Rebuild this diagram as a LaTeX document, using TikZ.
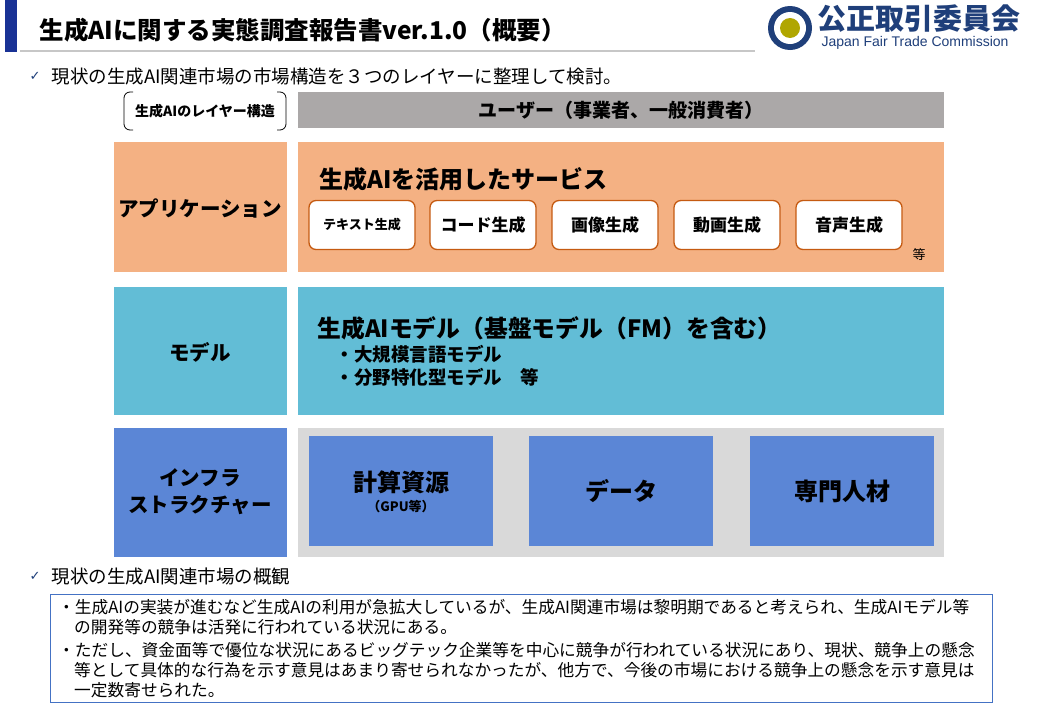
\documentclass[tikz,border=0pt]{standalone}
\usepackage{fontspec}
\setmainfont{Noto Sans CJK JP}
\newfontfamily\dv{DejaVu Sans}
\newfontfamily\lat{Liberation Sans}
\definecolor{app}{HTML}{F4B183}
\definecolor{mdl}{HTML}{62BDD6}
\definecolor{inf}{HTML}{5B86D6}
\definecolor{usr}{HTML}{ABA8A8}
\definecolor{lg}{HTML}{D9D9D9}
\definecolor{brd}{HTML}{C55A11}
\definecolor{navy}{HTML}{1F3F7A}
\definecolor{bx}{HTML}{4472C4}
\begin{document}
\begin{tikzpicture}[x=1pt,y=-1pt,
  svc/.style={draw=brd,line width=1.3pt,fill=white,rounded corners=7pt,minimum width=106pt,minimum height=49pt,inner sep=0pt,font=\fontsize{17}{17}\selectfont\bfseries},
  lay/.style={font=\fontsize{20.5}{27}\selectfont\bfseries,align=center}]
\useasboundingbox (0,0) rectangle (1040,720);
\fill[white] (0,0) rectangle (1040,720);
% header
\fill[navy!80!blue] (5,0) rectangle (17,52);
\draw[lg!80!gray,line width=2pt] (20,51) -- (755,51);
\node[anchor=west,font=\fontsize{24.5}{24.5}\selectfont\bfseries] (title) at (36,30) {生成AIに関する実態調査報告書ver.1.0（概要）};
% logo
\fill[navy] (790,28) circle (22);
\fill[white] (790,28) circle (16);
\fill[olive!70!yellow] (790,28) circle (10);
\node[anchor=west,font=\fontsize{29}{29}\selectfont\bfseries,text=navy] (logo) at (814,19) {公正取引委員会};
\node[anchor=west,font=\fontsize{14}{14}\selectfont\lat,text=navy] (logoen) at (818,43) {Japan Fair Trade Commission};
% check 1
\node[anchor=west,font=\fontsize{13}{13}\selectfont\dv,text=navy] (c1) at (26,76) {✓};
\node[anchor=west,font=\fontsize{18.5}{18.5}\selectfont] (t1) at (48,76) {現状の生成AI関連市場の市場構造を３つのレイヤーに整理して検討。};
% bracket label
\node[font=\fontsize{14}{14}\selectfont\bfseries] (lbl) at (205,111) {生成AIのレイヤー構造};
\draw[line width=0.8pt,rounded corners=6pt] (133,92) -- (124,92) -- (124,130) -- (133,130);
\draw[line width=0.8pt,rounded corners=6pt] (277,92) -- (286,92) -- (286,130) -- (277,130);
% user
\fill[usr] (298,92) rectangle (944,128);
\node[font=\fontsize{19}{19}\selectfont\bfseries] (user) at (621,110) {ユーザー（事業者、一般消費者）};
% application
\fill[app] (114,142) rectangle (287,272);
\fill[app] (298,142) rectangle (944,272);
\node[lay] (la) at (200,208) {アプリケーション};
\node[anchor=west,font=\fontsize{24}{24}\selectfont\bfseries] (st) at (316,179) {生成AIを活用したサービス};
\node[svc,font=\fontsize{13}{13}\selectfont\bfseries] (s1) at (362,225) {テキスト生成};
\node[svc] (s2) at (483,225) {コード生成};
\node[svc] (s3) at (605,225) {画像生成};
\node[svc] (s4) at (727,225) {動画生成};
\node[svc] (s5) at (849,225) {音声生成};
\node[font=\fontsize{13}{13}\selectfont] (etc) at (919,255) {等};
% model
\fill[mdl] (114,287) rectangle (287,415);
\fill[mdl] (298,287) rectangle (944,415);
\node[lay] (lm) at (200,352) {モデル};
\node[anchor=west,font=\fontsize{23.8}{23.8}\selectfont\bfseries] (mt) at (314,328) {生成AIモデル（基盤モデル（FM）を含む）};
\node[anchor=west,font=\fontsize{18.5}{18.5}\selectfont\bfseries] (b1) at (332,354) {・大規模言語モデル};
\node[anchor=west,font=\fontsize{18.5}{18.5}\selectfont\bfseries] (b2) at (332,377) {・分野特化型モデル\quad 等};
% infra
\fill[inf] (114,428) rectangle (287,557);
\fill[lg] (298,428) rectangle (944,557);
\node[lay] (li) at (200,492) {インフラ\\ストラクチャー};
\fill[inf] (309,436) rectangle (493,546);
\fill[inf] (529,436) rectangle (713,546);
\fill[inf] (750,436) rectangle (934,546);
\node[font=\fontsize{24}{24}\selectfont\bfseries] (i1) at (401,482) {計算資源};
\node[font=\fontsize{13}{13}\selectfont\bfseries] (i1b) at (401,507) {（GPU等）};
\node[font=\fontsize{24}{24}\selectfont\bfseries] (i2) at (621,491) {データ};
\node[font=\fontsize{24}{24}\selectfont\bfseries] (i3) at (842,491) {専門人材};
% check 2
\node[anchor=west,font=\fontsize{13}{13}\selectfont\dv,text=navy] (c2) at (26,576) {✓};
\node[anchor=west,font=\fontsize{18.5}{18.5}\selectfont] (t2) at (48,576) {現状の生成AI関連市場の概観};
\draw[bx,line width=0.8pt] (50,594) rectangle (992,702);
\begin{scope}[every node/.style={anchor=west,font=\fontsize{16.7}{16.7}\selectfont,inner sep=0pt}]
\node (p1) at (58,607) {・生成AIの実装が進むなど生成AIの利用が急拡大しているが、生成AI関連市場は黎明期であると考えられ、生成AIモデル等};
\node (p2) at (74,627) {の開発等の競争は活発に行われている状況にある。};
\node (p3) at (58,650) {・ただし、資金面等で優位な状況にあるビッグテック企業等を中心に競争が行われている状況にあり、現状、競争上の懸念};
\node (p4) at (74,670) {等として具体的な行為を示す意見はあまり寄せられなかったが、他方で、今後の市場における競争上の懸念を示す意見は};
\node (p5) at (74,690) {一定数寄せられた。};
\end{scope}
\end{tikzpicture}
\end{document}
